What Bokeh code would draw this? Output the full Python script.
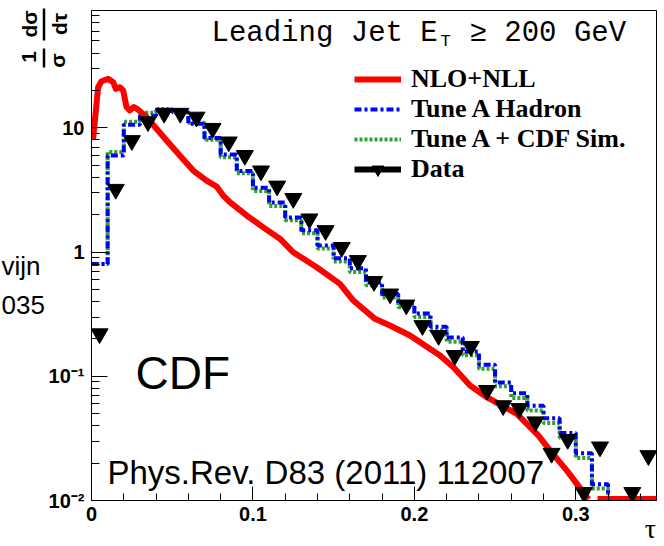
import numpy as np
from bokeh.plotting import figure
from bokeh.models import (Range1d, SingleIntervalTicker, LogTicker, Label,
                          Legend, LegendItem, GridBox)
from bokeh.core.properties import value
from bokeh.embed import file_html
from bokeh.resources import INLINE

# ---------------- data ----------------
# CDF data points (bin centres, 1/sigma dsigma/dtau)
data_tau = [0.005, 0.015, 0.025, 0.035, 0.045, 0.055, 0.065, 0.075, 0.085, 0.095,
            0.105, 0.115, 0.125, 0.135, 0.145, 0.155, 0.165, 0.175, 0.185, 0.195,
            0.205, 0.215, 0.225, 0.235, 0.245, 0.255, 0.265, 0.275, 0.285, 0.295,
            0.305, 0.315, 0.335, 0.345]
data_val = [0.22, 3.2, 7.9, 11.2, 13.1, 13.1, 12.2, 9.9, 7.7, 6.0,
            4.5, 3.4, 2.7, 1.85, 1.49, 1.09, 0.855, 0.58, 0.46, 0.375,
            0.256, 0.213, 0.147, 0.174, 0.077, 0.058, 0.055, 0.043, 0.024, 0.031,
            0.0116, 0.027, 0.0116, 0.023]

# MC histograms, bin edges 0 .. 0.35 in steps of 0.01
mc_edges = [0.00, 0.01, 0.02, 0.03, 0.04, 0.05, 0.06, 0.07, 0.08, 0.09,
            0.10, 0.11, 0.12, 0.13, 0.14, 0.15, 0.16, 0.17, 0.18, 0.19,
            0.20, 0.21, 0.22, 0.23, 0.24, 0.25, 0.26, 0.27, 0.28, 0.29,
            0.30, 0.31, 0.32, 0.33, 0.34, 0.35]
tune_a_hadron = [0.80, 6.0, 10.6, 12.5, 13.8, 13.4, 10.8, 8.3, 6.1, 4.5,
                 3.3, 2.5, 1.9, 1.5, 1.13, 0.89, 0.74, 0.57, 0.46, 0.385,
                 0.32, 0.25, 0.205, 0.158, 0.124, 0.089, 0.073, 0.058, 0.046, 0.035,
                 0.024, 0.0135, 0.0, 0.0, 0.0]
tune_a_cdf_sim = [0.80, 6.4, 11.2, 13.2, 14.2, 13.6, 11.0, 8.0, 5.8, 4.3,
                  3.1, 2.35, 1.8, 1.42, 1.07, 0.84, 0.69, 0.54, 0.43, 0.36,
                  0.30, 0.235, 0.19, 0.148, 0.115, 0.083, 0.067, 0.053, 0.042, 0.032,
                  0.022, 0.0125, 0.0, 0.0, 0.0]

# NLO+NLL resummed prediction
nll_tau = [0.001, 0.0041, 0.0062, 0.0103, 0.0134, 0.0151, 0.0175, 0.0196, 0.0217, 0.0237,
           0.0262, 0.0289, 0.0341, 0.0403, 0.0465, 0.0547, 0.0630, 0.0713, 0.0775, 0.0816,
           0.0857, 0.0961, 0.1064, 0.1167, 0.1250, 0.1395, 0.1539, 0.1622, 0.1756, 0.1849,
           0.1973, 0.2159, 0.2242, 0.2345, 0.2449, 0.2635, 0.2769, 0.2841, 0.2945, 0.3038,
           0.3079]
nll_val = [8.15, 21.2, 23.7, 24.8, 23.3, 20.6, 21.2, 20.0, 14.7, 13.8,
           14.7, 14.0, 12.2, 9.82, 7.90, 5.98, 4.53, 3.76, 3.37, 2.85,
           2.52, 1.97, 1.58, 1.28, 0.996, 0.755, 0.555, 0.407, 0.290, 0.256,
           0.213, 0.147, 0.118, 0.0842, 0.0678, 0.0498, 0.0333, 0.0252, 0.0174, 0.0120,
           0.0102]
# prediction below the axis minimum (drawn on the lower edge)
nll_floor_tau = [0.3135, 0.35]

y_tick_labels = {0.01: "10\u207b\u00b2", 0.1: "10\u207b\u00b9", 1: "1", 10: "10"}

# ---------------- main figure ----------------
YMIN, YMAX = 0.01, 88.0
W, H = 662, 544
p = figure(frame_width=565, frame_height=490,
           x_range=Range1d(0, 0.35), y_range=Range1d(YMIN, YMAX),
           y_axis_type="log", output_backend="svg", toolbar_location=None,
           min_border_left=91, min_border_right=W - 91 - 565,
           min_border_top=10, min_border_bottom=H - 10 - 490)
p.title.visible = False
p.background_fill_alpha = 0
p.border_fill_alpha = 0
p.outline_line_color = "black"
p.outline_line_width = 1
p.xgrid.visible = False
p.ygrid.visible = False

FONT = "Liberation Sans"
for ax in (p.xaxis[0], p.yaxis[0]):
    ax.axis_line_color = "black"
    ax.major_tick_line_color = "black"
    ax.minor_tick_line_color = "black"
    ax.major_tick_out = 0
    ax.minor_tick_out = 0
    ax.major_label_text_font = FONT
    ax.major_label_text_font_style = "bold"
    ax.major_label_text_font_size = "20px"
    ax.major_label_text_color = "black"

p.xaxis.ticker = SingleIntervalTicker(interval=0.1, num_minor_ticks=5)
p.xaxis.major_tick_in = 14
p.xaxis.minor_tick_in = 7
p.xaxis.major_label_standoff = 6
p.xaxis.major_label_overrides = {0: "0", 0.1: "0.1", 0.2: "0.2", 0.3: "0.3"}

p.yaxis.ticker = LogTicker(num_minor_ticks=10)
p.yaxis.major_tick_in = 16
p.yaxis.minor_tick_in = 8
p.yaxis.major_label_standoff = 7
p.yaxis.major_label_overrides = y_tick_labels

# ---------------- glyphs ----------------
def step_points(edges, vals):
    ys = [v if v > 0 else YMIN * 1e-3 for v in vals]
    return list(edges), ys + [ys[-1]]

gx, gy = step_points(mc_edges, tune_a_cdf_sim)
r_green = p.step(gx, gy, mode="after", line_color="#33a02c", line_width=4,
                 line_dash="3 2")
bx, by = step_points(mc_edges, tune_a_hadron)
r_blue = p.step(bx, by, mode="after", line_color="#0000ff", line_width=4,
                line_dash="7 3 3 3")

r_red = p.line(nll_tau, nll_val, line_color="#ff0000", line_width=6,
               line_join="round")
p.line(nll_floor_tau, [YMIN * 1.03] * len(nll_floor_tau), line_color="#ff0000",
       line_width=6)

r_data = p.scatter(data_tau, data_val, marker="inverted_triangle", size=17,
                   fill_color="black", line_color="black")
r_data_line = p.line(data_tau, data_val, line_color="black", line_width=6,
                     visible=False)

legend = Legend(items=[
    LegendItem(label="NLO+NLL", renderers=[r_red]),
    LegendItem(label="Tune A Hadron", renderers=[r_blue]),
    LegendItem(label="Tune A + CDF Sim.", renderers=[r_green]),
    LegendItem(label="Data", renderers=[r_data_line, r_data]),
], location=(263, 316), glyph_width=47, glyph_height=30, label_height=30,
    label_standoff=10, spacing=0, padding=0, margin=0,
    border_line_alpha=0, background_fill_alpha=0, inactive_fill_alpha=0,
    label_text_font="Liberation Serif", label_text_font_style="bold",
    label_text_font_size="26px", label_text_color="black")
p.add_layout(legend)

# ---------------- in-frame texts ----------------
def lab(text, x, y, size, font=FONT, style="normal", align="left"):
    p.add_layout(Label(x=x, y=y, x_units="screen", y_units="screen", text=text,
                       text_font=font, text_font_size=size, text_font_style=style,
                       text_align=align, text_baseline="alphabetic",
                       text_color="black"))

MONO = "Liberation Mono"
lab("Leading Jet E", 120, 467, "29px", font=MONO)
lab("T", 349, 459, "17px", font=MONO)
lab("\u2265 200 GeV", 378, 467, "29px", font=MONO)
lab("CDF", 44, 128, "46px")
lab("Phys.Rev. D83 (2011) 112007", 16, 28, "33px")

# ---------------- texts outside the frame (background canvas) ----------------
q = figure(width=W, height=H, x_range=Range1d(0, W), y_range=Range1d(H, 0),
           x_axis_location=None, y_axis_location=None, min_border=0,
           output_backend="svg", toolbar_location=None)
q.title.visible = False
q.outline_line_color = None
q.grid.visible = False
q.background_fill_color = "white"
q.border_fill_color = "white"

for fig in (p, q):
    if "frame_align" in fig.properties():
        fig.frame_align = False

# y-axis title: (1/sigma)(d sigma/d tau), rotated
ROT = np.pi / 2
q.text(x=[28.5, 59, 28, 57], y=[23.5, 23.5, 56.5, 60],
       text=["d\u03c3", "d\u03c4", "1", "\u03c3"], angle=ROT,
       text_font=value(FONT), text_font_style="bold", text_font_size=value("21px"),
       text_align="center", text_baseline="middle", text_color="black")
q.segment(x0=[43.5, 43.5], y0=[8, 48], x1=[43.5, 43.5], y1=[40, 67],
          line_color="black", line_width=2.5)

# partially visible slide texts at the left edge
q.text(x=[1, 1], y=[265, 304], text=["vijn", "035"],
       text_font=value(FONT), text_font_size=value("26px"),
       text_align="left", text_baseline="alphabetic", text_color="black")

# x-axis title
q.text(x=[650], y=[543], text=["\u03c4"], text_font=value("Liberation Serif"),
       text_font_size=value("28px"), text_align="center",
       text_baseline="bottom", text_color="black")

page = GridBox(children=[(q, 0, 0), (p, 0, 0)])

open("out.html", "w").write(file_html(page, INLINE))
